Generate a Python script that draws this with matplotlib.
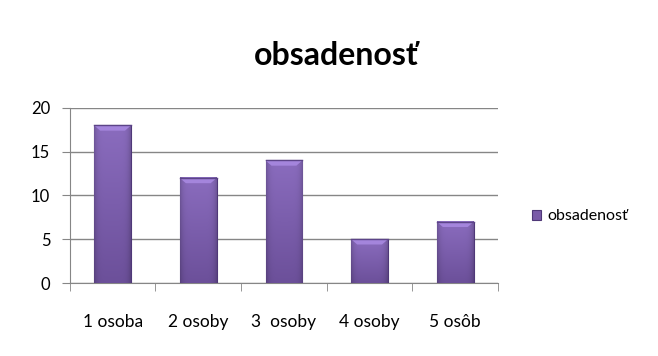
import matplotlib
matplotlib.use("Agg")
import matplotlib.pyplot as plt
import numpy as np
from matplotlib.patches import Polygon

# occupancy per room type
categories = ["1 osoba", "2 osoby", "3  osoby", "4 osoby", "5 osôb"]
values = [18, 12, 14, 5, 7]
series_name = "obsadenosť"

plt.rcParams['font.family'] = ['Lato', 'DejaVu Sans']

fig = plt.figure(figsize=(6.58, 3.56), dpi=100)
ax = fig.add_axes([0.106, 0.205, 0.651, 0.492])

x = np.arange(len(categories))
bw = 0.43
bars = ax.bar(x, values, width=bw, color="#7a5ba8", edgecolor="#4f3878",
              linewidth=0.8, zorder=3, label=series_name)

# shaded fill: lighter at the top, darker towards the sides
top_c = np.array([0x8a, 0x6c, 0xbe]) / 255
bot_c = np.array([0x6c, 0x50, 0x9a]) / 255
nx, ny = 40, 60
vert = np.linspace(0, 1, ny)[:, None, None]
horiz = np.abs(np.linspace(-1, 1, nx))[None, :, None]
grad = bot_c + (top_c - bot_c) * vert
grad = grad * (1 - 0.18 * horiz ** 6)
for b in bars:
    x0, w, h = b.get_x(), b.get_width(), b.get_height()
    ax.imshow(np.clip(grad, 0, 1), extent=(x0, x0 + w, 0, h), origin="lower",
              aspect="auto", zorder=3.5, interpolation="bilinear")
    # bevelled top face
    d = 0.07
    ax.add_patch(Polygon([(x0, h), (x0 + w, h), (x0 + w - d, h - 0.6), (x0 + d, h - 0.6)],
                         closed=True, color="#a485dc", zorder=4, lw=0))
    ax.plot([x0, x0 + w], [h, h], color="#5c4488", lw=1, zorder=4.5)

ax.set_xlim(-0.5, len(categories) - 0.5)
ax.set_ylim(0, 20)
ax.set_yticks([0, 5, 10, 15, 20])
ax.yaxis.grid(True, color="#868686", linewidth=1, zorder=0)
ax.set_axisbelow(True)

for s in ["top", "right"]:
    ax.spines[s].set_visible(False)
ax.spines["left"].set_color("#868686")
ax.spines["bottom"].set_color("#868686")

ax.set_xticks(x)
ax.set_xticklabels(categories, fontsize=12.5)
ax.set_xticks(np.arange(-0.5, len(categories)), minor=True)
ax.tick_params(axis="x", which="major", length=0, pad=22)
ax.tick_params(axis="x", which="minor", length=6, color="#868686")
ax.tick_params(axis="y", length=6, color="#868686", labelsize=12, pad=8)

fig.text(0.511, 0.845, series_name, ha="center", va="center",
         fontsize=23, fontweight="bold")

ax.legend(loc="center left", bbox_to_anchor=(1.045, 0.38), frameon=False,
          fontsize=11.5, handlelength=0.6, handleheight=0.6, handletextpad=0.35)

fig.savefig("out.png", dpi=100)
